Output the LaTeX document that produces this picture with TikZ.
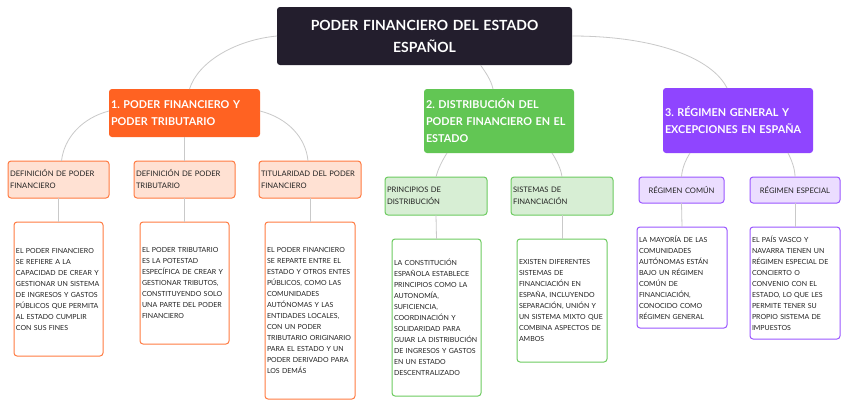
\documentclass[tikz,border=0pt]{standalone}
\usepackage{fontspec}
\setmainfont{Lato}
\definecolor{rootc}{HTML}{231E2D}
\definecolor{orangec}{HTML}{FF6222}
\definecolor{greenc}{HTML}{62C654}
\definecolor{purplec}{HTML}{8F45FF}
\definecolor{lorange}{HTML}{FFE1D3}
\definecolor{borange}{HTML}{FF7B42}
\definecolor{lgreen}{HTML}{D7EED4}
\definecolor{bgreen}{HTML}{6DCB60}
\definecolor{lpurple}{HTML}{EBDDFF}
\definecolor{bpurple}{HTML}{9B57FF}
\definecolor{edgec}{HTML}{C9C9C9}
\definecolor{txt}{HTML}{222222}
\tikzset{
  box/.style={rectangle, rounded corners=3pt, inner sep=2pt, outer sep=0pt, align=left},
  rootbox/.style={box, fill=rootc, text=white, font=\fontsize{14}{22}\selectfont\bfseries, align=center},
  mainbox/.style={box, fill=#1, text=white, font=\fontsize{10.8}{17}\selectfont\bfseries},
  subbox/.style={box, line width=1pt, text=txt, font=\fontsize{7.6}{12}\selectfont},
  detbox/.style={box, line width=1pt, fill=white, text=txt, font=\fontsize{7}{11}\selectfont},
  link/.style={draw=edgec, line width=0.8pt},
}
\frenchspacing
\begin{document}
\begin{tikzpicture}[x=1pt,y=-1pt]
\useasboundingbox[fill=white] (0,0) rectangle (848,408);
% main
\node[rootbox, minimum width=295pt, minimum height=58pt, text width=291pt] (root) at (424.5,36) {PODER FINANCIERO DEL ESTADO\\ESPAÑOL};
\node[mainbox=orangec, minimum width=151pt, minimum height=48pt, text width=147pt] (n1) at (184.5,113) {1. PODER FINANCIERO Y\\PODER TRIBUTARIO};
\node[mainbox=greenc, minimum width=150pt, minimum height=64pt, text width=146pt] (n2) at (499,121) {2. DISTRIBUCIÓN DEL\\PODER FINANCIERO EN EL\\ESTADO};
\node[mainbox=purplec, minimum width=150pt, minimum height=65pt, text width=146pt] (n3) at (738,120.5) {3. RÉGIMEN GENERAL Y\\EXCEPCIONES EN ESPAÑA};
% orange children
\node[subbox, fill=lorange, draw=borange, minimum width=101pt, minimum height=37pt, text width=97pt] (defpf) at (58.5,179.5) {DEFINICIÓN DE PODER\\FINANCIERO};
\node[subbox, fill=lorange, draw=borange, minimum width=101pt, minimum height=37pt, text width=97pt] (defpt) at (184.5,179.5) {DEFINICIÓN DE PODER\\TRIBUTARIO};
\node[subbox, fill=lorange, draw=borange, minimum width=102pt, minimum height=37pt, text width=98pt] (tit) at (310,179.5) {TITULARIDAD DEL PODER\\FINANCIERO};
\node[detbox, draw=borange, minimum width=89pt, minimum height=134pt, text width=85pt] (d1) at (58.5,289) {EL PODER FINANCIERO\\SE REFIERE A LA\\CAPACIDAD DE CREAR Y\\GESTIONAR UN SISTEMA\\DE INGRESOS Y GASTOS\\PÚBLICOS QUE PERMITA\\AL ESTADO CUMPLIR\\CON SUS FINES};
\node[detbox, draw=borange, minimum width=89pt, minimum height=122pt, text width=85pt] (d2) at (184.5,283) {EL PODER TRIBUTARIO\\ES LA POTESTAD\\ESPECÍFICA DE CREAR Y\\GESTIONAR TRIBUTOS,\\CONSTITUYENDO SOLO\\UNA PARTE DEL PODER\\FINANCIERO};
\node[detbox, draw=borange, minimum width=90pt, minimum height=177pt, text width=86pt] (d3) at (310,310.5) {EL PODER FINANCIERO\\SE REPARTE ENTRE EL\\ESTADO Y OTROS ENTES\\PÚBLICOS, COMO LAS\\COMUNIDADES\\AUTÓNOMAS Y LAS\\ENTIDADES LOCALES,\\CON UN PODER\\TRIBUTARIO ORIGINARIO\\PARA EL ESTADO Y UN\\PODER DERIVADO PARA\\LOS DEMÁS};
% green children
\node[subbox, fill=lgreen, draw=bgreen, minimum width=102pt, minimum height=38pt, text width=98pt] (princ) at (436,196) {PRINCIPIOS DE\\DISTRIBUCIÓN};
\node[subbox, fill=lgreen, draw=bgreen, minimum width=102pt, minimum height=38pt, text width=98pt] (sist) at (562,196) {SISTEMAS DE\\FINANCIACIÓN};
\node[detbox, draw=bgreen, minimum width=89pt, minimum height=157pt, text width=85pt] (d4) at (436.5,317.5) {LA CONSTITUCIÓN\\ESPAÑOLA ESTABLECE\\PRINCIPIOS COMO LA\\AUTONOMÍA,\\SUFICIENCIA,\\COORDINACIÓN Y\\SOLIDARIDAD PARA\\GUIAR LA DISTRIBUCIÓN\\DE INGRESOS Y GASTOS\\EN UN ESTADO\\DESCENTRALIZADO};
\node[detbox, draw=bgreen, minimum width=90pt, minimum height=123pt, text width=86pt] (d5) at (562,300.5) {EXISTEN DIFERENTES\\SISTEMAS DE\\FINANCIACIÓN EN\\ESPAÑA, INCLUYENDO\\SEPARACIÓN, UNIÓN Y\\UN SISTEMA MIXTO QUE\\COMBINA ASPECTOS DE\\AMBOS};
% purple children
\node[subbox, fill=lpurple, draw=bpurple, minimum width=85pt, minimum height=26pt, text width=81pt, align=center] (comun) at (681.5,190) {RÉGIMEN COMÚN};
\node[subbox, fill=lpurple, draw=bpurple, minimum width=90pt, minimum height=26pt, text width=86pt, align=center] (esp) at (795,190) {RÉGIMEN ESPECIAL};
\node[detbox, draw=bpurple, minimum width=90pt, minimum height=101pt, text width=86pt] (d6) at (682,277.5) {LA MAYORÍA DE LAS\\COMUNIDADES\\AUTÓNOMAS ESTÁN\\BAJO UN RÉGIMEN\\COMÚN DE\\FINANCIACIÓN,\\CONOCIDO COMO\\RÉGIMEN GENERAL};
\node[detbox, draw=bpurple, minimum width=90pt, minimum height=112pt, text width=86pt] (d7) at (795,283) {EL PAÍS VASCO Y\\NAVARRA TIENEN UN\\RÉGIMEN ESPECIAL DE\\CONCIERTO O\\CONVENIO CON EL\\ESTADO, LO QUE LES\\PERMITE TENER SU\\PROPIO SISTEMA DE\\IMPUESTOS};
% connectors
\draw[link] (root.west) .. controls (235,40) and (198,62) .. ([xshift=5pt]n1.north);
\draw[link] ([xshift=56pt]root.south) .. controls (486,73) and (491,80) .. ([xshift=-6pt]n2.north);
\draw[link] (root.east) .. controls (655,36) and (712,58) .. ([xshift=-11pt]n3.north);
\draw[link] ([yshift=2pt]n1.west) .. controls (82,118) and (64,138) .. ([xshift=3pt]defpf.north);
\draw[link] (n1.south) -- (defpt.north);
\draw[link] ([yshift=2pt]n1.east) .. controls (288,118) and (306,138) .. ([xshift=-2pt]tit.north);
\draw[link] ([xshift=-52pt]n2.south) .. controls (442,161) and (438,169) .. (princ.north);
\draw[link] ([xshift=53pt]n2.south) .. controls (557,161) and (561,169) .. (sist.north);
\draw[link] ([xshift=-48pt]n3.south) .. controls (685,161) and (682,169) .. (comun.north);
\draw[link] ([xshift=50pt]n3.south) .. controls (792,161) and (795,169) .. (esp.north);
\draw[link] (defpf.south) -- (d1.north);
\draw[link] (defpt.south) -- (d2.north);
\draw[link] (tit.south) -- (d3.north);
\draw[link] (princ.south) -- (d4.north);
\draw[link] (sist.south) -- (d5.north);
\draw[link] (comun.south) -- (d6.north);
\draw[link] (esp.south) -- (d7.north);
\end{tikzpicture}
\end{document}
